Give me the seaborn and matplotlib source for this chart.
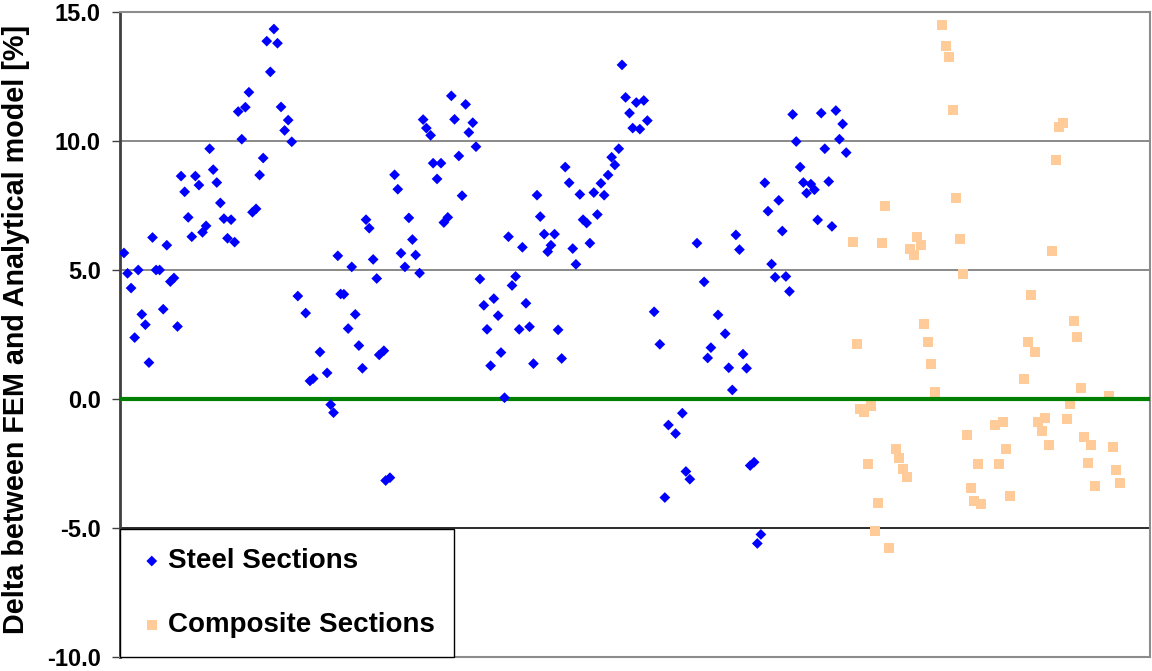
import matplotlib
matplotlib.use("Agg")
import matplotlib.pyplot as plt
from matplotlib.ticker import FormatStrFormatter, MultipleLocator
import numpy as np
import pandas as pd
import seaborn as sns

# Sample positions and FEM-vs-analytical deltas [%]
steel_x = [
    1, 2, 3, 4, 5, 6, 7, 8, 9, 10, 11, 12, 13, 14, 15, 16, 17, 18, 19, 20, 21, 22, 23, 24,
    25, 26, 27, 28, 29, 30, 31, 32, 33, 34, 35, 36, 37, 38, 39, 40, 41, 42, 43, 44, 45, 46, 47, 48,
    49.7, 51.9, 53.1, 54.0, 55.9, 57.9, 58.9, 59.7, 60.9, 61.7, 62.6, 63.8, 64.8, 65.8, 66.8, 67.8,
    68.8, 69.7, 70.8, 71.8, 72.5, 73.8, 74.3, 75.5, 76.8, 77.7, 78.6, 79.7, 80.8, 81.8, 82.7, 83.8,
    84.8, 85.7, 86.9, 87.6, 88.7, 89.8, 90.6, 91.7, 92.7, 93.6, 94.8, 95.7, 96.7, 97.6, 98.7, 99.6,
    100.7, 101.8, 102.7, 103.7, 104.6, 105.8, 106.6, 107.6, 108.7, 109.7, 110.7, 111.7, 112.6, 113.6,
    114.6, 115.7, 116.7, 117.6, 118.7, 119.7, 120.6, 121.6, 122.6, 123.6, 124.6, 125.7, 126.7, 127.6,
    128.7, 129.6, 130.6, 131.5, 132.6, 133.6, 134.6, 135.5, 136.6, 137.6, 138.5, 139.6, 140.5, 141.5,
    142.6, 143.5, 144.5, 145.5, 146.6, 147.6,
    149.5, 151.1, 152.5, 153.5, 155.5, 157.4, 158.4, 159.5, 161.5, 163.5, 164.5, 165.4, 167.4, 169.4,
    170.4, 171.4, 172.4, 173.4, 174.4, 175.4, 176.4, 177.5, 178.4, 179.4, 180.5, 181.4, 182.4, 183.4,
    184.4, 185.4, 186.4, 187.4, 188.3, 189.3, 190.4, 191.3, 192.2, 193.4, 194.4, 195.3, 196.3, 197.3,
    198.4, 199.3, 200.4, 201.4, 202.3, 203.3,
]
steel_delta = [
    5.66, 4.87, 4.30, 2.38, 5.00, 3.28, 2.88, 1.41, 6.26, 5.00, 5.00, 3.48, 5.96, 4.55, 4.69, 2.81,
    8.64, 8.03, 7.04, 6.29, 8.64, 8.29, 6.46, 6.71, 9.70, 8.89, 8.39, 7.60, 6.99, 6.23, 6.95, 6.08,
    11.14, 10.07, 11.31, 11.89, 7.24, 7.37, 8.68, 9.34, 13.87, 12.68, 14.34, 13.79, 11.32, 10.41, 10.81, 9.97,
    3.99, 3.33, 0.70, 0.79, 1.82, 1.01, -0.22, -0.53, 5.55, 4.07, 4.06, 2.73, 5.12, 3.28, 2.07, 1.19,
    6.95, 6.62, 5.41, 4.67, 1.71, 1.87, -3.16, -3.05, 8.69, 8.13, 5.65, 5.12, 7.02, 6.18, 5.58, 4.88,
    10.83, 10.50, 10.22, 9.14, 8.53, 9.14, 6.84, 7.04, 11.75, 10.84, 9.42, 7.88, 11.42, 10.33, 10.71, 9.78,
    4.65, 3.63, 2.70, 1.29, 3.89, 3.23, 1.80, 0.05, 6.29, 4.40, 4.75, 2.70, 5.88, 3.71, 2.80, 1.37,
    7.90, 7.07, 6.39, 5.71, 5.96, 6.39, 2.68, 1.57, 8.99, 8.38, 5.83, 5.22, 7.93, 6.95, 6.82, 6.04,
    8.00, 7.15, 8.36, 7.90, 8.68, 9.37, 9.07, 9.70, 12.95, 11.69, 11.08, 10.50, 11.49, 10.46, 11.57, 10.79,
    3.38, 2.12, -3.82, -1.01, -1.34, -0.55, -2.81, -3.11, 6.04, 4.54, 1.59, 1.99, 3.26, 2.53, 1.21, 0.35,
    6.36, 5.79, 1.74, 1.19, -2.58, -2.45, -5.60, -5.25, 8.38, 7.28, 5.23, 4.72, 7.70, 6.51, 4.75, 4.17,
    11.03, 9.98, 8.99, 8.39, 7.98, 8.33, 8.11, 6.94, 11.08, 9.70, 8.43, 6.69, 11.18, 10.07, 10.66, 9.55,
]

composite_x = [
    205.3, 206.3, 207.3, 208.2, 209.3, 210.3, 211.3, 212.2, 213.2, 214.3, 215.2, 217.3, 218.2,
    219.2, 220.3, 221.2, 222.2, 223.1, 224.2, 225.2, 226.2, 227.1, 228.2, 230.2, 231.2, 232.1,
    233.1, 234.1, 235.1, 236.1, 237.1, 238.2, 239.2, 240.1, 241.1, 245.1, 246.1, 247.1, 248.1,
    249.1, 253.0, 254.1, 255.1, 256.1, 257.0, 258.1, 259.1, 260.0, 261.0, 262.1, 263.0, 264.0,
    265.1, 266.1, 267.0, 268.0, 269.0, 270.0, 271.0, 272.0, 273.0, 276.9, 277.9, 278.9, 279.9,
]
composite_delta = [
    6.08, 2.14, -0.38, -0.50, -2.53, -0.28, -5.10, -4.02, 6.03, 7.48, -5.76, -1.92, -2.27,
    -2.72, -3.03, 5.83, 5.60, 6.26, 5.98, 2.91, 2.22, 1.37, 0.28, 14.49, 13.69, 13.26,
    11.21, 7.78, 6.19, 4.85, -1.39, -3.44, -3.97, -2.53, -4.07, -0.99, -2.53, -0.89, -1.94,
    -3.76, 0.79, 2.19, 4.04, 1.84, -0.89, -1.23, -0.73, -1.80, 5.75, 9.27, 10.55, 10.71,
    -0.78, -0.18, 3.03, 2.42, 0.43, -1.46, -2.50, -1.77, -3.39, 0.12, -1.87, -2.75, -3.25,
]

series_labels = ["Steel Sections", "Composite Sections"]
y_label = "Delta between FEM and Analytical model [%]"
y_limits = (-10, 15)
x_limits = (0, 288.4)

steel = pd.DataFrame({"x": steel_x, "delta": steel_delta})
composite = pd.DataFrame({"x": composite_x, "delta": composite_delta})

sns.set_theme(style="white")
plt.rcParams["font.family"] = ["Liberation Sans", "DejaVu Sans"]
plt.rcParams["font.weight"] = "bold"
plt.rcParams["axes.unicode_minus"] = False
for key in ("text.color", "axes.labelcolor", "xtick.color", "ytick.color"):
    plt.rcParams[key] = "black"

fig = plt.figure(figsize=(11.52, 6.71), dpi=100)
fig.patch.set_facecolor("white")
ax = fig.add_axes([0.1045, 0.0209, 0.8938, 0.9612])
ax.set_facecolor("white")

# horizontal reference lines
for yv in (5, 10):
    ax.axhline(yv, color="#808080", lw=1.3, zorder=1)
ax.axhline(-5, color="#1a1a1a", lw=1.3, zorder=1)

sns.scatterplot(data=composite, x="x", y="delta", marker="s", s=52, color="#FFCC99",
                edgecolor="none", linewidth=0, label=series_labels[1], ax=ax, zorder=2)
ax.axhline(0, color="#008000", lw=3.0, zorder=3)
sns.scatterplot(data=steel, x="x", y="delta", marker="D", s=30, color="#0000FF",
                edgecolor="none", linewidth=0, label=series_labels[0], ax=ax, zorder=4)

ax.set_xlim(*x_limits)
ax.set_ylim(*y_limits)
ax.set_xticks([])
ax.set_xlabel("")
ax.yaxis.set_major_locator(MultipleLocator(5))
ax.yaxis.set_major_formatter(FormatStrFormatter("%.1f"))
ax.tick_params(axis="y", direction="out", length=6, width=1.0, color="#404040",
               labelcolor="black", pad=8, labelsize=17, left=True)
for lbl in ax.get_yticklabels():
    lbl.set_fontweight("bold")

ax.set_ylabel(y_label, fontsize=20.7, fontweight="bold", color="black")
ax.yaxis.set_label_coords(-0.088, 0.508)

for side in ("top", "right", "bottom"):
    ax.spines[side].set_color("#8c8c8c")
    ax.spines[side].set_linewidth(1.5)
ax.spines["left"].set_color("#404040")
ax.spines["left"].set_linewidth(2.0)

handles, labels = ax.get_legend_handles_labels()
order = [labels.index(series_labels[0]), labels.index(series_labels[1])]
leg = ax.legend([handles[i] for i in order], [labels[i] for i in order],
                loc="lower left", bbox_to_anchor=(0, 0, 0.3236, 0.1984), mode="expand",
                borderaxespad=0, frameon=True, fancybox=False, edgecolor="black",
                framealpha=1, prop={"size": 20, "weight": "bold"}, labelspacing=1.36,
                borderpad=0.68, handlelength=0.9, handletextpad=0.15)
leg.get_frame().set_linewidth(1.0)
for txt in leg.get_texts():
    txt.set_color("black")
leg.set_zorder(10)

fig.savefig("out.png", dpi=100, facecolor="white")
